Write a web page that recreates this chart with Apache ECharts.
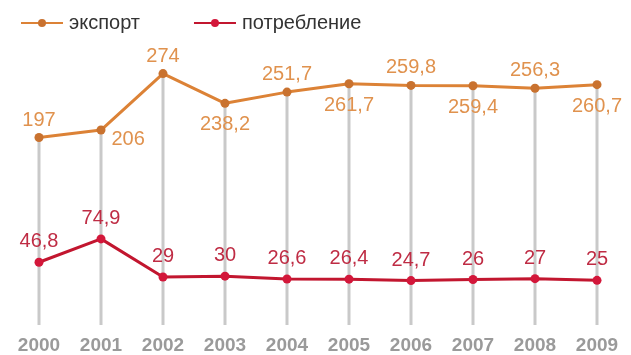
<!DOCTYPE html>
<html>
<head>
<meta charset="utf-8">
<script src="https://cdn.jsdelivr.net/npm/echarts@6/dist/echarts.min.js"></script>
<style>
  html, body { margin: 0; padding: 0; background: #ffffff; }
  #chart { width: 631px; height: 355px; }
</style>
</head>
<body>
<div id="chart"></div>
<script>
// Years on the horizontal axis
const years = ['2000', '2001', '2002', '2003', '2004', '2005', '2006', '2007', '2008', '2009'];
// Export volumes
const exportValues = [197, 206, 274, 238.2, 251.7, 261.7, 259.8, 259.4, 256.3, 260.7];
// Domestic consumption volumes
const consumptionValues = [46.8, 74.9, 29, 30, 26.6, 26.4, 24.7, 26, 27, 25];

// Where each export label sits relative to its point
const exportLabelSide = ['top', 'right', 'top', 'bottom', 'top', 'bottom', 'top', 'bottom', 'top', 'bottom'];

const Y_MIN = -30;
const Y_MAX = 300;
const DROP_BASE = -28.8;

const fmt = v => String(v).replace('.', ',');

const exportData = exportValues.map((v, i) => {
  const side = exportLabelSide[i];
  const label = { position: side };
  if (side === 'top') label.distance = 3;
  if (side === 'bottom') label.distance = 7;
  if (side === 'right') { label.distance = 6; label.offset = [0, 9]; }
  return { value: v, label };
});

const chart = echarts.init(document.getElementById('chart'), null, { renderer: 'canvas' });

chart.setOption({
  animation: false,
  backgroundColor: '#ffffff',
  textStyle: { fontFamily: 'Liberation Sans, Arial, sans-serif' },
  legend: {
    left: 15,
    top: 8,
    itemWidth: 42,
    itemHeight: 10,
    itemGap: 53,
    textStyle: { fontSize: 20, color: '#333333', padding: [0, 0, 0, 1] },
    data: ['экспорт', 'потребление']
  },
  grid: { left: 8, right: 3, top: 52, bottom: 29, containLabel: false },
  xAxis: {
    type: 'category',
    data: years,
    boundaryGap: true,
    axisLine: { show: false },
    axisTick: { show: false },
    splitLine: { show: false },
    axisLabel: { color: '#9a9a9a', fontSize: 19, fontWeight: 'bold', margin: 10 }
  },
  yAxis: {
    type: 'value',
    min: Y_MIN,
    max: Y_MAX,
    show: false,
    splitLine: { show: false }
  },
  series: [
    {
      // grey drop lines from each export point down to the base
      type: 'custom',
      name: 'drop',
      z: 1,
      silent: true,
      data: exportValues.map((v, i) => [i, v]),
      renderItem: (params, api) => {
        const top = api.coord([api.value(0), api.value(1)]);
        const bottom = api.coord([api.value(0), DROP_BASE]);
        return {
          type: 'line',
          shape: { x1: top[0], y1: top[1], x2: bottom[0], y2: bottom[1] },
          style: { stroke: '#c9c9c9', lineWidth: 3 }
        };
      }
    },
    {
      name: 'экспорт',
      type: 'line',
      z: 3,
      data: exportData,
      symbol: 'circle',
      symbolSize: 9,
      lineStyle: { color: '#dc8236', width: 3 },
      itemStyle: { color: '#c9722f' },
      label: {
        show: true,
        fontSize: 20,
        color: '#e0924e',
        formatter: p => fmt(p.value)
      }
    },
    {
      name: 'потребление',
      type: 'line',
      z: 3,
      data: consumptionValues,
      symbol: 'circle',
      symbolSize: 9,
      lineStyle: { color: '#c2162f', width: 3 },
      itemStyle: { color: '#d3173a' },
      label: {
        show: true,
        position: 'top',
        distance: 6,
        fontSize: 20,
        color: '#bf2c44',
        formatter: p => fmt(p.value)
      }
    }
  ]
});
</script>
</body>
</html>
